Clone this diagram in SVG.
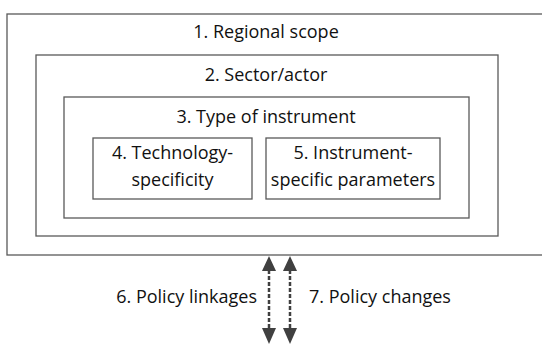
<svg xmlns="http://www.w3.org/2000/svg" width="542" height="345" viewBox="0 0 542 345">
<style>
.box{fill:#fff;stroke:#595959;stroke-width:1.3}
text{font-family:"Open Sans","Liberation Sans",sans-serif;font-size:18px;fill:#111;text-anchor:middle}
.conn{stroke:#404040;stroke-width:2.5;stroke-dasharray:4 2;fill:none}
.head{fill:#404040}
</style>
<g id="n1"><rect class="box" x="7" y="14" width="545" height="241"/><text x="266" y="38">1. Regional scope</text></g>
<g id="n2"><rect class="box" x="36" y="55" width="462" height="181"/><text x="266" y="81">2. Sector/actor</text></g>
<g id="n3"><rect class="box" x="64" y="97" width="405" height="121"/><text x="266" y="123">3. Type of instrument</text></g>
<g id="n4"><rect class="box" x="93" y="138" width="159" height="61"/><text x="172.5" y="159">4. Technology-</text><text x="172.5" y="186">specificity</text></g>
<g id="n5"><rect class="box" x="266" y="138" width="174" height="61"/><text x="353" y="159">5. Instrument-</text><text x="353" y="186">specific parameters</text></g>
<g id="connectors">
<line class="conn" x1="269" y1="270" x2="269" y2="329"/>
<polygon class="head" points="269,256 276,271 262,271"/>
<polygon class="head" points="269,344 276,328 262,328"/>
<line class="conn" x1="290" y1="270" x2="290" y2="329"/>
<polygon class="head" points="290,256 297,271 283,271"/>
<polygon class="head" points="290,344 297,328 283,328"/>
<text x="257" y="303" style="text-anchor:end">6. Policy linkages</text>
<text x="309" y="303" style="text-anchor:start">7. Policy changes</text>
</g>
</svg>
